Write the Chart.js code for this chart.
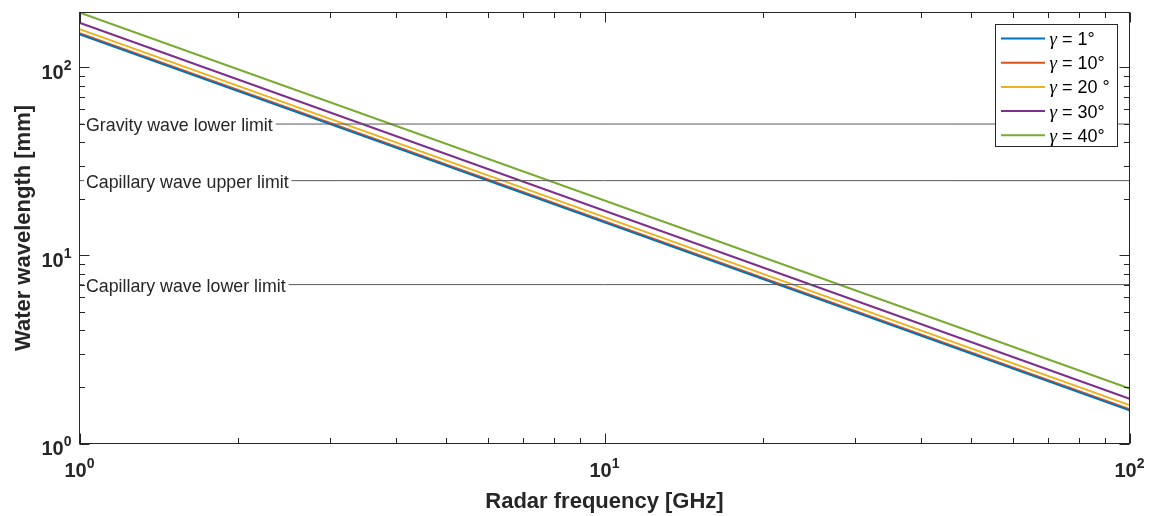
<!DOCTYPE html>
<html>
<head>
<meta charset="utf-8">
<script src="https://cdn.jsdelivr.net/npm/chart.js@4.4.0/dist/chart.umd.min.js"></script>
<style>
  body { margin: 0; background: #fff; }
  #wrap { width: 1153px; height: 516px; }
</style>
</head>
<body>
<div id="wrap"><canvas id="chart" width="1153" height="516"></canvas></div>
<script>
// Radar frequency end points [GHz]
const freqs = [1, 100];

// Water wavelength [mm] at each end point, one list per angle
const gamma1 = [150, 1.50];
const gamma10 = [152, 1.52];
const gamma20 = [160, 1.60];
const gamma30 = [173, 1.73];
const gamma40 = [196, 1.96];

const seriesLabels = ['γ = 1°', 'γ = 10°', 'γ = 20 °', 'γ = 30°', 'γ = 40°'];
const seriesColors = ['#0072BD', '#D95319', '#EDB120', '#7E2F8E', '#77AC30'];

// Reference limits
const limitValues = [50, 25, 7];
const limitLabels = ['Gravity wave lower limit', 'Capillary wave upper limit', 'Capillary wave lower limit'];

// axis ticks (decades)
const xMajor = [1, 10, 100];
const xMajorExp = ['0', '1', '2'];
const yMajor = [1, 10, 100];
const yMajorExp = ['0', '1', '2'];

const xTitle = 'Radar frequency [GHz]';
const yTitle = 'Water wavelength [mm]';

const FONT = '"Liberation Sans", Arial, Helvetica, sans-serif';
const AXIS_COLOR = '#262626';

const toPoints = vals => freqs.map((f, i) => ({ x: f, y: vals[i] }));

const datasets = [];
// horizontal limit lines
limitValues.forEach(v => {
    datasets.push({
        label: '',
        data: freqs.map(f => ({ x: f, y: v })),
        borderColor: '#5a5a5a',
        borderWidth: 1,
        pointRadius: 0
    });
});
[gamma1, gamma10, gamma20, gamma30, gamma40].forEach((vals, i) => {
    datasets.push({
        label: seriesLabels[i],
        data: toPoints(vals),
        borderColor: seriesColors[i],
        borderWidth: 2,
        pointRadius: 0
    });
});

function isInt(v) {
    return Math.abs(v - Math.round(v)) < 1e-6;
}

// draw labels with superscript exponent
function drawPow(ctx, xPos, yBase, exp, align) {
    ctx.font = 'bold 20px ' + FONT;
    const wBase = ctx.measureText('10').width;
    ctx.font = 'bold 14px ' + FONT;
    const wExp = ctx.measureText(exp).width;
    let x0 = align === 'right' ? xPos - wBase - wExp : xPos - (wBase + wExp) / 2;
    ctx.textAlign = 'left';
    ctx.textBaseline = 'alphabetic';
    ctx.font = 'bold 20px ' + FONT;
    ctx.fillText('10', x0, yBase);
    ctx.font = 'bold 14px ' + FONT;
    ctx.fillText(exp, x0 + wBase, yBase - 9);
}

const matlabAxes = {
    id: 'matlabAxes',
    afterDatasetsDraw(chart) {
        const { ctx, chartArea: a, scales: { x, y } } = chart;
        ctx.save();

        // limit labels sitting on the lines
        ctx.font = '17.8px ' + FONT;
        limitValues.forEach((v, i) => {
            const py = y.getPixelForValue(v);
            const w = ctx.measureText(limitLabels[i]).width;
            ctx.fillStyle = '#fff';
            ctx.fillRect(84, py - 10, w + 5, 20);
            ctx.fillStyle = AXIS_COLOR;
            ctx.textAlign = 'left';
            ctx.textBaseline = 'alphabetic';
            ctx.fillText(limitLabels[i], 86, py + 7);
        });

        // box
        ctx.strokeStyle = AXIS_COLOR;
        ctx.lineWidth = 1;
        ctx.strokeRect(a.left, a.top, a.right - a.left, a.bottom - a.top);

        // tick marks, inward on all four sides
        ctx.beginPath();
        x.ticks.forEach(t => {
            const v = t.value;
            if (v < x.min || v > x.max) return;
            const p = Math.pow(10, Math.floor(Math.log10(v) + 1e-9));
            if (!isInt(v / p)) return;
            const len = isInt(Math.log10(v)) ? 10 : 5.5;
            const px = Math.round(x.getPixelForValue(v)) + 0.5;
            ctx.moveTo(px, a.bottom); ctx.lineTo(px, a.bottom - len);
            ctx.moveTo(px, a.top); ctx.lineTo(px, a.top + len);
        });
        y.ticks.forEach(t => {
            const v = t.value;
            if (v < y.min || v > y.max) return;
            const p = Math.pow(10, Math.floor(Math.log10(v) + 1e-9));
            if (!isInt(v / p)) return;
            const len = isInt(Math.log10(v)) ? 10 : 5.5;
            const py = Math.round(y.getPixelForValue(v)) + 0.5;
            ctx.moveTo(a.left, py); ctx.lineTo(a.left + len, py);
            ctx.moveTo(a.right, py); ctx.lineTo(a.right - len, py);
        });
        ctx.stroke();

        // tick labels
        ctx.fillStyle = AXIS_COLOR;
        xMajor.forEach((v, i) => drawPow(ctx, x.getPixelForValue(v), a.bottom + 33.5, xMajorExp[i], 'center'));
        yMajor.forEach((v, i) => drawPow(ctx, a.left - 8, y.getPixelForValue(v) + 11.5, yMajorExp[i], 'right'));

        // axis titles
        ctx.font = 'bold 22px ' + FONT;
        ctx.textAlign = 'center';
        ctx.textBaseline = 'alphabetic';
        ctx.fillText(xTitle, (a.left + a.right) / 2, 508);
        ctx.save();
        ctx.translate(29.5, (a.top + a.bottom) / 2);
        ctx.rotate(-Math.PI / 2);
        ctx.fillText(yTitle, 0, 0);
        ctx.restore();

        // legend
        const lx = 995.5, ly = 24.5, lw = 122, lh = 122;
        ctx.fillStyle = '#fff';
        ctx.fillRect(lx, ly, lw, lh);
        ctx.strokeStyle = AXIS_COLOR;
        ctx.lineWidth = 1;
        ctx.strokeRect(lx, ly, lw, lh);
        seriesLabels.forEach((lab, i) => {
            const yy = 38.5 + i * 24.2;
            ctx.strokeStyle = seriesColors[i];
            ctx.lineWidth = 2;
            ctx.beginPath();
            ctx.moveTo(1001, yy); ctx.lineTo(1045, yy);
            ctx.stroke();
            ctx.fillStyle = '#000';
            ctx.textAlign = 'left';
            ctx.textBaseline = 'alphabetic';
            ctx.font = 'italic 19px "Liberation Serif", "Times New Roman", serif';
            ctx.fillText('γ', 1049.5, yy + 6.5);
            const gw = ctx.measureText('γ').width;
            ctx.font = '18px ' + FONT;
            ctx.fillText(lab.slice(1), 1049.5 + gw, yy + 6.5);
        });

        ctx.restore();
    }
};

new Chart(document.getElementById('chart'), {
    type: 'line',
    data: { datasets: datasets },
    options: {
        responsive: false,
        animation: false,
        layout: { padding: { left: 79.5, right: 23.5, top: 12.5, bottom: 72.5 } },
        scales: {
            x: {
                type: 'logarithmic',
                min: 1,
                max: 100,
                grid: { display: false, drawTicks: false },
                border: { display: false },
                ticks: { display: false }
            },
            y: {
                type: 'logarithmic',
                min: 1,
                max: 196,
                grid: { display: false, drawTicks: false },
                border: { display: false },
                ticks: { display: false }
            }
        },
        plugins: {
            legend: { display: false },
            tooltip: { enabled: false }
        }
    },
    plugins: [matlabAxes]
});
</script>
</body>
</html>
